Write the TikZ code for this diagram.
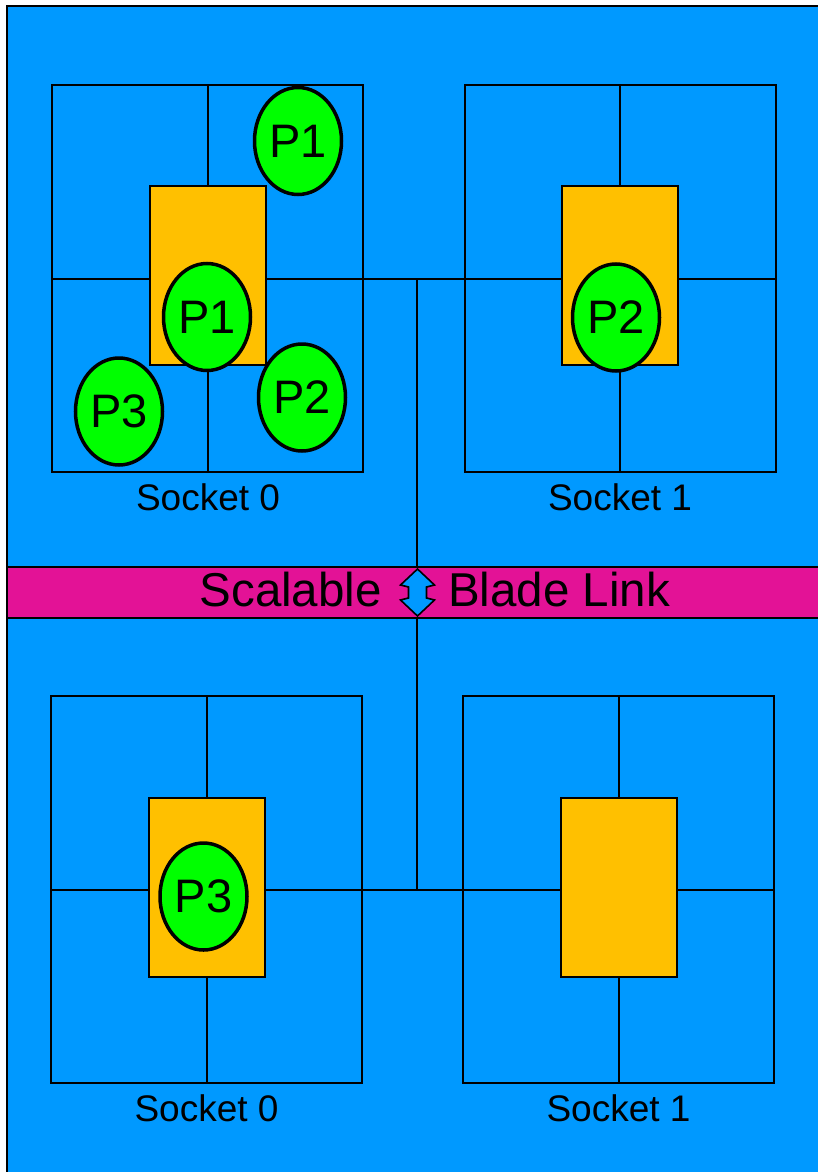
\documentclass[tikz,border=0pt]{standalone}
\usepackage{fontspec}
\setmainfont{Liberation Sans}
\usetikzlibrary{shapes.geometric,calc}
\definecolor{panel}{RGB}{0,153,255}
\definecolor{link}{RGB}{227,18,150}
\definecolor{die}{RGB}{255,192,0}
\definecolor{proc}{RGB}{0,255,0}
\tikzset{
  wire/.style={draw=black, line width=2pt},
  socketbox/.style={draw=black, line width=2pt, minimum width=311pt, minimum height=387pt,
    inner sep=0pt, outer sep=0pt},
  corebox/.style={draw=black, fill=die, line width=2pt, minimum width=116pt, minimum height=179pt,
    inner sep=0pt, outer sep=0pt},
  procnode/.style={ellipse, draw=black, fill=proc, line width=3.5pt, minimum width=87pt,
    minimum height=107pt, inner sep=0pt, font=\fontsize{47}{47}\selectfont},
  socklabel/.style={anchor=base, inner sep=0pt, font=\fontsize{37}{37}\selectfont},
  linklabel/.style={inner sep=0pt, font=\fontsize{47.5}{47.5}\selectfont},
}
\begin{document}
\begin{tikzpicture}[x=1pt, y=-1pt]
  \useasboundingbox (0,0) rectangle (818,1172);
  \fill[white] (0,0) rectangle (818,1172);
  \clip (0,0) rectangle (818,1172);

  % blade panel
  \filldraw[fill=panel, draw=black, line width=2pt] (7,6) rectangle (840,1190);

  % sockets
  \node[socketbox] (ts0) at (207.5,278.5) {};
  \node[socketbox] (ts1) at (620,278.5) {};
  \node[socketbox] (bs0) at (206.5,889.5) {};
  \node[socketbox] (bs1) at (618.5,889.5) {};

  % quadrant lines inside each socket
  \foreach \s in {ts0,ts1,bs0,bs1} {
    \draw[wire] (\s.north) -- (\s.south);
    \draw[wire] (\s.west) -- (\s.east);
  }

  % interconnect between sockets and to the link
  \coordinate (tj) at (416.5,278.5);
  \coordinate (bj) at (416.5,889.5);
  \node[draw=black, fill=link, line width=2pt, minimum width=833pt, minimum height=51pt,
        inner sep=0pt, outer sep=0pt] (band) at (423.5,592.5) {};
  \draw[wire] (ts0.east) -- (ts1.west);
  \draw[wire] (bs0.east) -- (bs1.west);
  \draw[wire] (tj) -- (tj |- band.north);
  \draw[wire] (bj) -- (bj |- band.south);

  % link label with the up-down arrow
  \node[linklabel, anchor=base east] (lscal) at (382,606) {Scalable};
  \node[linklabel, anchor=base west] (lblade) at (448,606) {Blade Link};
  \coordinate (arr) at (417.5,592.5);
  \filldraw[fill=panel, draw=black, line width=1.6pt, line join=miter]
    ($(arr)+(0,-23.5)$) -- ++(17,16) -- ++(-8,2) -- ++(0,11) -- ++(8,2)
    -- ++(-17,16) -- ++(-17,-16) -- ++(8,-2) -- ++(0,-11) -- ++(-8,-2) -- cycle;

  % dies
  \node[corebox] (tc0) at (208,275.5) {};
  \node[corebox] (tc1) at (620,275.5) {};
  \node[corebox] (bc0) at (206.5,887) {};
  \node[corebox] (bc1) at (618.5,887) {};

  % processes
  \node[procnode] (pa) at (298,141) {P1};
  \node[procnode] (pb) at (207,317) {P1};
  \node[procnode] (pc) at (119,411.5) {P3};
  \node[procnode] (pd) at (302,397.5) {P2};
  \node[procnode] (pe) at (616,317.5) {P2};
  \node[procnode] (pf) at (203.5,896.5) {P3};

  % socket labels
  \node[socklabel] (lts0) at (208,510) {Socket 0};
  \node[socklabel] (lts1) at (620,510) {Socket 1};
  \node[socklabel] (lbs0) at (206.5,1121) {Socket 0};
  \node[socklabel] (lbs1) at (618.5,1121) {Socket 1};
\end{tikzpicture}
\end{document}
